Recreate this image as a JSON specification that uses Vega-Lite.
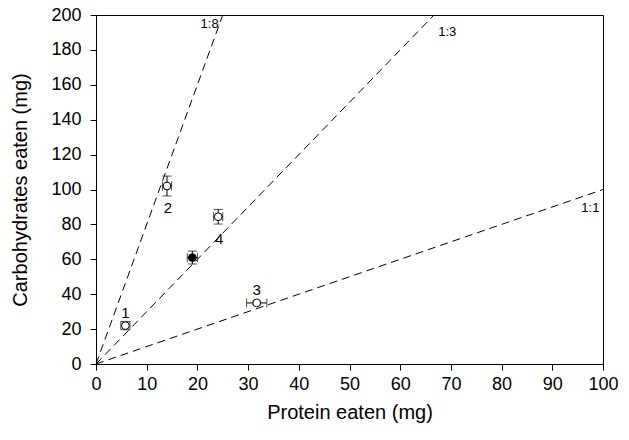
{
  "$schema": "https://vega.github.io/schema/vega-lite/v6.json",
  "autosize": "none",
  "width": 507,
  "height": 349,
  "padding": {"left": 96, "top": 15, "right": 26, "bottom": 76},
  "background": "white",
  "config": {
    "font": "Liberation Sans",
    "view": {"stroke": "black", "strokeWidth": 1},
    "axis": {
      "domainColor": "black",
      "tickColor": "black",
      "labelColor": "black",
      "titleColor": "black",
      "grid": false,
      "labelFont": "Liberation Sans",
      "titleFont": "Liberation Sans",
      "labelFontSize": 18,
      "titleFontSize": 20,
      "titleFontWeight": "normal",
      "labelOverlap": false,
      "labelFlush": false,
      "tickSize": 6,
      "tickCount": 11
    },
    "axisX": {"labelPadding": 5, "titlePadding": 9},
    "axisY": {"labelPadding": 9, "titlePadding": 20}
  },
  "datasets": {
    "pts": [
      {"id": "1", "x": 5.8, "y": 22, "xlo": 4.9, "xhi": 6.7, "ylo": 19.6, "yhi": 24.4, "type": "open"},
      {"id": "2", "x": 14, "y": 102, "xlo": 13.1, "xhi": 14.9, "ylo": 96.3, "yhi": 107.7, "type": "open"},
      {"id": "F", "x": 19, "y": 61, "xlo": 18, "xhi": 20, "ylo": 57.3, "yhi": 64.7, "type": "filled"},
      {"id": "4", "x": 24.1, "y": 84.4, "xlo": 23.2, "xhi": 25, "ylo": 80.2, "yhi": 88.6, "type": "open"},
      {"id": "3", "x": 31.7, "y": 35, "xlo": 29.7, "xhi": 33.7, "ylo": 34, "yhi": 36, "type": "open"}
    ],
    "lines": [
      {"ratio": "1:8", "x": 0, "y": 0},
      {"ratio": "1:8", "x": 25, "y": 200},
      {"ratio": "1:3", "x": 0, "y": 0},
      {"ratio": "1:3", "x": 66.67, "y": 200},
      {"ratio": "1:1", "x": 0, "y": 0},
      {"ratio": "1:1", "x": 100, "y": 100}
    ],
    "linelabels": [
      {"ratio": "1:8", "x": 24.2, "y": 195},
      {"ratio": "1:3", "x": 67.5, "y": 190},
      {"ratio": "1:1", "x": 99.3, "y": 89.5}
    ]
  },
  "layer": [
    {
      "data": {"name": "lines"},
      "mark": {"type": "line", "color": "black", "strokeWidth": 1, "strokeDash": [8, 5], "clip": true},
      "encoding": {
        "x": {"field": "x", "type": "quantitative", "scale": {"domain": [0, 100], "nice": false}, "axis": {"title": "Protein eaten (mg)", "values": [0,10,20,30,40,50,60,70,80,90,100]}},
        "y": {"field": "y", "type": "quantitative", "scale": {"domain": [0, 200], "nice": false}, "axis": {"title": "Carbohydrates eaten (mg)", "values": [0,20,40,60,80,100,120,140,160,180,200]}},
        "detail": {"field": "ratio"}
      }
    },
    {
      "data": {"name": "linelabels"},
      "mark": {"type": "text", "fontSize": 13, "fill": "black", "align": "right", "baseline": "middle"},
      "transform": [{"filter": "datum.ratio != '1:3'"}],
      "encoding": {
        "x": {"field": "x", "type": "quantitative"},
        "y": {"field": "y", "type": "quantitative"},
        "text": {"field": "ratio"}
      }
    },
    {
      "data": {"name": "linelabels"},
      "mark": {"type": "text", "fontSize": 13, "fill": "black", "align": "left", "baseline": "middle"},
      "transform": [{"filter": "datum.ratio == '1:3'"}],
      "encoding": {
        "x": {"field": "x", "type": "quantitative"},
        "y": {"field": "y", "type": "quantitative"},
        "text": {"field": "ratio"}
      }
    },
    {
      "data": {"name": "pts"},
      "mark": {"type": "rule", "color": "black", "strokeWidth": 1},
      "encoding": {
        "x": {"field": "x", "type": "quantitative"},
        "y": {"field": "ylo", "type": "quantitative"},
        "y2": {"field": "yhi"}
      }
    },
    {
      "data": {"name": "pts"},
      "mark": {"type": "rule", "color": "black", "strokeWidth": 1},
      "encoding": {
        "y": {"field": "y", "type": "quantitative"},
        "x": {"field": "xlo", "type": "quantitative"},
        "x2": {"field": "xhi"}
      }
    },
    {
      "data": {"name": "pts"},
      "mark": {"type": "tick", "color": "black", "orient": "horizontal", "size": 9, "thickness": 1},
      "encoding": {
        "x": {"field": "x", "type": "quantitative"},
        "y": {"field": "ylo", "type": "quantitative"}
      }
    },
    {
      "data": {"name": "pts"},
      "mark": {"type": "tick", "color": "black", "orient": "horizontal", "size": 9, "thickness": 1},
      "encoding": {
        "x": {"field": "x", "type": "quantitative"},
        "y": {"field": "yhi", "type": "quantitative"}
      }
    },
    {
      "data": {"name": "pts"},
      "mark": {"type": "tick", "color": "black", "orient": "vertical", "size": 9, "thickness": 1},
      "encoding": {
        "x": {"field": "xlo", "type": "quantitative"},
        "y": {"field": "y", "type": "quantitative"}
      }
    },
    {
      "data": {"name": "pts"},
      "mark": {"type": "tick", "color": "black", "orient": "vertical", "size": 9, "thickness": 1},
      "encoding": {
        "x": {"field": "xhi", "type": "quantitative"},
        "y": {"field": "y", "type": "quantitative"}
      }
    },
    {
      "data": {"name": "pts"},
      "mark": {"type": "point", "shape": "circle", "size": 60, "stroke": "black", "strokeWidth": 1, "opacity": 1},
      "encoding": {
        "x": {"field": "x", "type": "quantitative"},
        "y": {"field": "y", "type": "quantitative"},
        "fill": {"field": "type", "type": "nominal", "scale": {"domain": ["open", "filled"], "range": ["white", "black"]}, "legend": null}
      }
    },
    {
      "data": {"name": "pts"},
      "transform": [{"filter": "datum.id == '1' || datum.id == '3'"}],
      "mark": {"type": "text", "fontSize": 15, "fill": "black", "baseline": "middle", "dy": -13},
      "encoding": {
        "x": {"field": "x", "type": "quantitative"},
        "y": {"field": "y", "type": "quantitative"},
        "text": {"field": "id"}
      }
    },
    {
      "data": {"name": "pts"},
      "transform": [{"filter": "datum.id == '2' || datum.id == '4'"}],
      "mark": {"type": "text", "fontSize": 15, "fill": "black", "baseline": "middle", "dy": 22, "dx": 1},
      "encoding": {
        "x": {"field": "x", "type": "quantitative"},
        "y": {"field": "y", "type": "quantitative"},
        "text": {"field": "id"}
      }
    }
  ]
}
